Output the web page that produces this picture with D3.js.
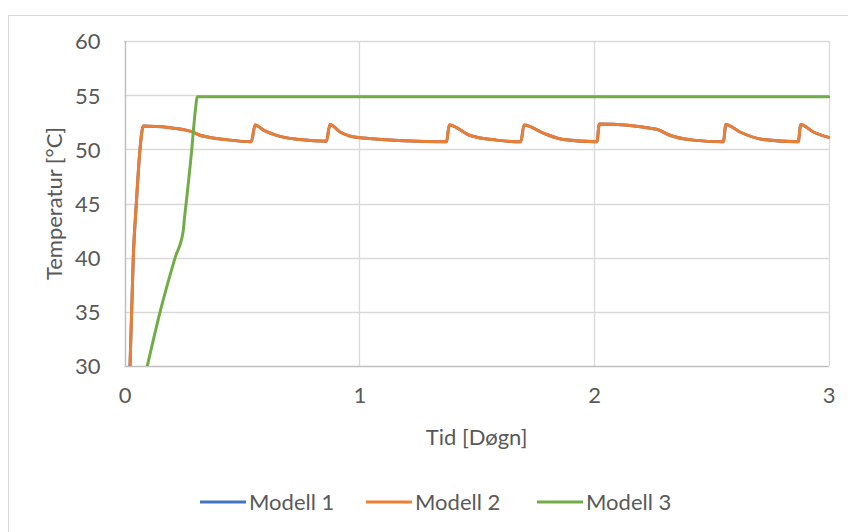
<!DOCTYPE html>
<html>
<head>
<meta charset="utf-8">
<script src="https://cdn.jsdelivr.net/npm/d3@7"></script>
<style>
  html, body { margin: 0; padding: 0; background: #fff; }
  svg { display: block; font-family: Lato, "Open Sans", sans-serif; }
</style>
</head>
<body>
<svg id="chart" width="848" height="532"></svg>
<script>
// ---- Data ----
const seriesNames = ["Modell 1", "Modell 2", "Modell 3"];
const seriesColors = ["#4472C4", "#ED7D31", "#70AD47"];
const xTicks = [0, 1, 2, 3];
const yTicks = [30, 35, 40, 45, 50, 55, 60];

// Modell 1 and Modell 2 coincide (orange drawn over blue)
const modell1Time = [0.023, 0.030, 0.037, 0.050, 0.0656, 0.0797, 0.243, 0.286, 0.321, 0.364, 0.43, 0.54, 0.556, 0.59, 0.662, 0.747, 0.86, 0.875, 0.918, 1.003, 1.372, 1.383, 1.47, 1.585, 1.688, 1.702, 1.784, 1.87, 2.012, 2.023, 2.267, 2.323, 2.423, 2.551, 2.562, 2.622, 2.721, 2.87, 2.881, 2.935, 3.0];
const modell1Temp = [30, 35, 40, 45, 50, 52.15, 51.85, 51.63, 51.3, 51.1, 50.9, 50.7, 52.25, 51.8, 51.2, 50.9, 50.75, 52.3, 51.6, 51.07, 50.7, 52.25, 51.3, 50.85, 50.7, 52.25, 51.5, 50.9, 50.7, 52.35, 51.85, 51.3, 50.85, 50.7, 52.3, 51.6, 50.9, 50.7, 52.3, 51.6, 51.1];
const modell2Time = modell1Time.slice();
const modell2Temp = modell1Temp.slice();
const modell3Time = [0.0967, 0.1513, 0.2152, 0.2501, 0.2544, 0.2606, 0.2862, 0.300, 0.310, 3.0];
const modell3Temp = [30, 35.0, 40.0, 42.5, 43.5, 44.7, 50.0, 53.3, 54.85, 54.85];

const series = [
  { name: seriesNames[0], color: seriesColors[0], t: modell1Time, v: modell1Temp, curve: d3.curveMonotoneX },
  { name: seriesNames[1], color: seriesColors[1], t: modell2Time, v: modell2Temp, curve: d3.curveMonotoneX },
  { name: seriesNames[2], color: seriesColors[2], t: modell3Time, v: modell3Temp, curve: d3.curveMonotoneX }
];

// ---- Layout ----
const W = 848, H = 532;
const plot = { left: 124.6, right: 828.7, top: 41, bottom: 366 };
const textColor = "#595959";
const gridColor = "#d9d9d9";
const fontSize = 22;

const svg = d3.select("#chart");

// chart border
svg.append("rect")
  .attr("x", 8.5).attr("y", 15.5)
  .attr("width", W).attr("height", H)
  .attr("fill", "#fff").attr("stroke", gridColor).attr("stroke-width", 1);

const x = d3.scaleLinear().domain([0, 3]).range([plot.left, plot.right]);
const y = d3.scaleLinear().domain([30, 60]).range([plot.bottom, plot.top]);

// horizontal gridlines
svg.append("g").selectAll("line").data(yTicks.filter(d => d > 30)).join("line")
  .attr("x1", plot.left).attr("x2", plot.right)
  .attr("y1", d => Math.round(y(d)) + 0.5).attr("y2", d => Math.round(y(d)) + 0.5)
  .attr("stroke", gridColor).attr("stroke-width", 1.3);

// vertical gridlines
svg.append("g").selectAll("line").data(xTicks.filter(d => d > 0)).join("line")
  .attr("y1", plot.top).attr("y2", plot.bottom)
  .attr("x1", d => Math.round(x(d)) + 0.5).attr("x2", d => Math.round(x(d)) + 0.5)
  .attr("stroke", gridColor).attr("stroke-width", 1.3);

// axis lines
svg.append("line")
  .attr("x1", Math.round(plot.left) + 0.5).attr("x2", Math.round(plot.left) + 0.5)
  .attr("y1", plot.top).attr("y2", plot.bottom + 1)
  .attr("stroke", "#bfbfbf").attr("stroke-width", 1.5);
svg.append("line")
  .attr("x1", plot.left).attr("x2", plot.right)
  .attr("y1", Math.round(plot.bottom) + 0.5).attr("y2", Math.round(plot.bottom) + 0.5)
  .attr("stroke", "#bfbfbf").attr("stroke-width", 1.5);

// Axes (labels via d3 axis)
const yAxis = d3.axisLeft(y).tickValues(yTicks).tickSize(0).tickPadding(0).tickFormat(d3.format("d"));
const gy = svg.append("g").attr("transform", `translate(${plot.left - 24},0)`).call(yAxis);
gy.select(".domain").remove();
gy.selectAll("text").attr("fill", textColor).attr("font-size", fontSize)
  .attr("font-family", "Lato, 'Open Sans', sans-serif").attr("dy", "0.36em");

const xAxis = d3.axisBottom(x).tickValues(xTicks).tickSize(0).tickPadding(0).tickFormat(d3.format("d"));
const gx = svg.append("g").attr("transform", `translate(0,${plot.bottom + 24})`).call(xAxis);
gx.select(".domain").remove();
gx.selectAll("text").attr("fill", textColor).attr("font-size", fontSize)
  .attr("font-family", "Lato, 'Open Sans', sans-serif").attr("dy", "0.6em");

// Axis titles
svg.append("text")
  .attr("x", (plot.left + plot.right) / 2).attr("y", 445)
  .attr("text-anchor", "middle").attr("fill", textColor).attr("font-size", fontSize)
  .text("Tid [Døgn]");
svg.append("text")
  .attr("transform", `translate(62,${(plot.top + plot.bottom) / 2}) rotate(-90)`)
  .attr("text-anchor", "middle").attr("fill", textColor).attr("font-size", fontSize)
  .text("Temperatur [°C]");

// Lines
const clipId = "plotclip";
svg.append("clipPath").attr("id", clipId).append("rect")
  .attr("x", plot.left).attr("y", plot.top - 5)
  .attr("width", plot.right - plot.left + 2).attr("height", plot.bottom - plot.top + 5);

svg.append("g").attr("clip-path", `url(#${clipId})`)
  .selectAll("path").data(series).join("path")
  .attr("d", s => d3.line().x(d => x(d[0])).y(d => y(d[1])).curve(s.curve)(s.t.map((t, i) => [t, s.v[i]])))
  .attr("fill", "none")
  .attr("stroke", s => s.color)
  .attr("stroke-width", 3)
  .attr("stroke-linejoin", "round")
  .attr("stroke-linecap", "round");

// Legend
const legendX = [200, 366, 537];
const legend = svg.append("g").selectAll("g").data(series).join("g")
  .attr("transform", (s, i) => `translate(${legendX[i]},502)`);
legend.append("line").attr("x1", 0).attr("x2", 46).attr("y1", 0).attr("y2", 0)
  .attr("stroke", s => s.color).attr("stroke-width", 3);
legend.append("text").attr("x", 49).attr("y", 0).attr("dy", "0.36em")
  .attr("fill", textColor).attr("font-size", fontSize)
  .text(s => s.name);
</script>
</body>
</html>
